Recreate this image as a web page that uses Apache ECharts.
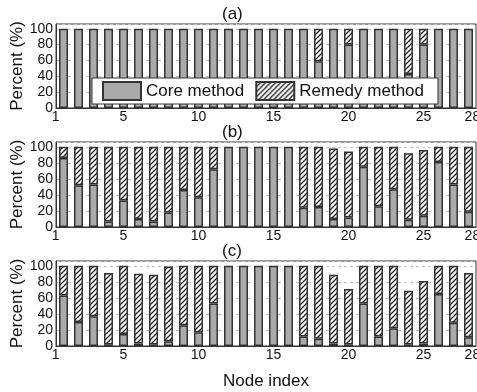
<!DOCTYPE html>
<html>
<head>
<meta charset="utf-8">
<script src="https://cdn.jsdelivr.net/npm/echarts@6/dist/echarts.min.js"></script>
<style>
  html, body { margin: 0; padding: 0; background: #fff; }
  #chart { width: 477px; height: 392px; }
</style>
</head>
<body>
<div id="chart"></div>
<script>
// Node indices along the x axis
const categories = ['1','2','3','4','5','6','7','8','9','10','11','12','13','14',
  '15','16','17','18','19','20','21','22','23','24','25','26','27','28'];
// Tick labels that are printed under each panel
const shownTicks = ['1', '5', '10', '15', '20', '25', '28'];
const yTicks = [0, 20, 40, 60, 80, 100];

// Panel (a)
const coreA   = [100,100,100,100,100,100,100,100,100,100,100,100,100,100,100,100,100,59,100,80,100,100,100,43,80,100,100,100];
const remedyA = [0,0,0,0,0,0,0,0,0,0,0,0,0,0,0,0,0,41,0,20,0,0,0,57,20,0,0,0];
// Panel (b)
const coreB   = [86,52,53,7,33,10,7,18,46,37,72,100,100,100,100,100,24,25,10,12,75,26,47,9,14,81,53,19];
const remedyB = [14,48,47,93,67,90,93,82,54,63,28,0,0,0,0,0,76,75,88,82,25,74,53,83,82,19,47,81];
// Panel (c)
const coreC   = [63,30,37,2,15,3,2,6,26,17,53,100,100,100,100,100,12,9,3,2,53,12,22,2,3,65,29,11];
const remedyC = [37,70,63,89,85,87,87,93,74,83,47,0,0,0,0,0,88,91,86,69,47,88,78,67,78,35,71,80];

const panelTitles = ['(a)', '(b)', '(c)'];
const FONT = 'Liberation Sans, Arial, Helvetica, sans-serif';
const NBSP = '\u00a0';

// Diagonal "///" hatch tile for the remedy bars
function makeHatch() {
  const s = 5;
  const c = document.createElement('canvas');
  c.width = s; c.height = s;
  const g = c.getContext('2d');
  g.fillStyle = '#ffffff';
  g.fillRect(0, 0, s, s);
  g.strokeStyle = '#222222';
  g.lineWidth = 1.3;
  g.beginPath();
  g.moveTo(-1, s + 1); g.lineTo(s + 1, -1);
  g.moveTo(-1, 1); g.lineTo(1, -1);
  g.moveTo(s - 1, s + 1); g.lineTo(s + 1, s - 1);
  g.stroke();
  return c;
}
const hatch = { image: makeHatch(), repeat: 'repeat' };

// The first and last tick labels sit off-centre: the "1" hugs the left frame,
// the "28" leans past the last bar.
function tickText(v) {
  if (v === '1') return v + NBSP.repeat(4);
  if (v === '28') return NBSP.repeat(2) + v;
  return v;
}

// Pixel layout of the three stacked panels
const panels = [
  { top: 24,  height: 84, core: coreA, remedy: remedyA, titleTop: 6 },
  { top: 142, height: 85, core: coreB, remedy: remedyB, titleTop: 124 },
  { top: 261, height: 85, core: coreC, remedy: remedyC, titleTop: 243 }
];

const chart = echarts.init(document.getElementById('chart'), null, { renderer: 'canvas' });

const grids = [], xAxes = [], yAxes = [], series = [], titles = [];
panels.forEach((p, i) => {
  grids.push({
    left: 56, right: 1, top: p.top, height: p.height,
    outerBoundsMode: 'none', containLabel: false,
    show: true, borderColor: '#333', borderWidth: 1, backgroundColor: 'transparent'
  });
  xAxes.push({
    type: 'category', gridIndex: i, data: categories,
    boundaryGap: true,
    axisLine: { show: true, lineStyle: { color: '#333', width: 1 } },
    axisTick: { show: false },
    axisLabel: {
      interval: (idx, v) => shownTicks.indexOf(v) >= 0,
      margin: 2,
      fontSize: 14, fontFamily: FONT, color: '#111',
      formatter: tickText
    },
    name: i === 2 ? 'Node index' : '',
    nameLocation: 'middle', nameGap: 27, nameMoveOverlap: false,
    nameTextStyle: { fontSize: 17, fontFamily: FONT, color: '#111' }
  });
  yAxes.push({
    type: 'value', gridIndex: i, min: 0, max: 106, interval: 20,
    axisLine: { show: true, lineStyle: { color: '#333', width: 1 } },
    axisTick: { show: false },
    axisLabel: {
      margin: 3, fontSize: 14, fontFamily: FONT, color: '#111',
      formatter: v => yTicks.indexOf(v) >= 0 ? String(v) : ''
    },
    splitLine: { show: true, lineStyle: { color: '#c4c4c4', type: [3, 3], width: 1 } },
    name: 'Percent (%)', nameLocation: 'middle', nameGap: 30, nameMoveOverlap: false,
    nameTextStyle: { fontSize: 17, fontFamily: FONT, color: '#111' }
  });
  series.push({
    name: 'Core method', type: 'bar', xAxisIndex: i, yAxisIndex: i,
    stack: 'p' + i, barWidth: 9,
    data: p.core.map(v => v === 0 ? '-' : v),
    itemStyle: { color: '#aaaaaa', borderColor: '#333', borderWidth: 1.5 },
    emphasis: { disabled: true }, animation: false
  });
  series.push({
    name: 'Remedy method', type: 'bar', xAxisIndex: i, yAxisIndex: i,
    stack: 'p' + i, barWidth: 9,
    data: p.remedy.map(v => v === 0 ? '-' : v),
    itemStyle: { color: hatch, borderColor: '#333', borderWidth: 1.5 },
    emphasis: { disabled: true }, animation: false
  });
  titles.push({
    text: panelTitles[i], left: 222, top: p.titleTop, padding: 0,
    textStyle: { fontSize: 17, fontFamily: FONT, fontWeight: 'normal', color: '#111' }
  });
});

chart.setOption({
  animation: false,
  backgroundColor: '#fff',
  title: titles,
  legend: {
    data: ['Core method', 'Remedy method'],
    left: 92, top: 78,
    padding: [3, 14, 3, 10],
    itemWidth: 38, itemHeight: 18, itemGap: 11,
    icon: 'rect',
    backgroundColor: '#fff', borderColor: '#333', borderWidth: 1,
    textStyle: { fontSize: 17, fontFamily: FONT, color: '#111' },
    selectedMode: false
  },
  grid: grids,
  xAxis: xAxes,
  yAxis: yAxes,
  series: series
});
</script>
</body>
</html>
